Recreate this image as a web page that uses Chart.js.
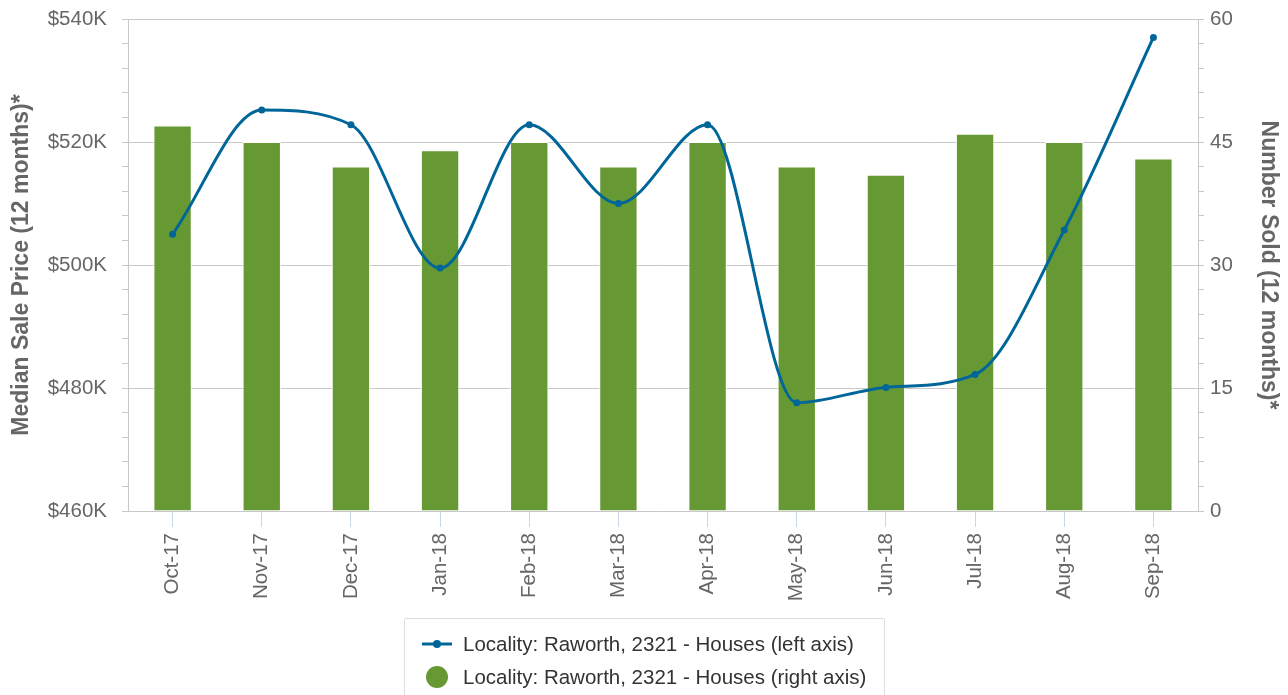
<!DOCTYPE html>
<html>
<head>
<meta charset="utf-8">
<script src="https://cdn.jsdelivr.net/npm/chart.js@4.4.1/dist/chart.umd.min.js"></script>
<style>
  html, body { margin: 0; padding: 0; background: #fff; overflow: hidden; }
  #wrap { position: relative; width: 1288px; height: 695px; }
  #c { position: absolute; left: 0; top: 0; }
  #legend {
    position: absolute; left: 404px; top: 618px; width: 481px; height: 100px;
    border: 1px solid #ddd; border-radius: 2px; box-sizing: border-box;
    font-family: "Liberation Sans", Arial, sans-serif; font-size: 20.5px; color: #333;
  }
  .item { position: absolute; left: 16px; height: 24px; display: flex; align-items: center; white-space: nowrap; }
  .item svg { margin-right: 10px; }
</style>
</head>
<body>
<div id="wrap">
  <canvas id="c" width="1288" height="695"></canvas>
  <div id="legend">
    <div class="item" style="top:13px">
      <svg width="32" height="12"><line x1="1" y1="6" x2="31" y2="6" stroke="#006699" stroke-width="3"/><circle cx="16" cy="6" r="4" fill="#006699"/></svg>
      <span id="l1"></span>
    </div>
    <div class="item" style="top:46px">
      <svg width="32" height="24"><circle cx="16" cy="12" r="11" fill="#669933"/></svg>
      <span id="l2"></span>
    </div>
  </div>
</div>
<script>
const categories = ["Oct-17","Nov-17","Dec-17","Jan-18","Feb-18","Mar-18","Apr-18","May-18","Jun-18","Jul-18","Aug-18","Sep-18"];
const medianPrice = [505000, 525200, 522800, 499500, 522800, 510000, 522800, 477600, 480100, 482200, 505700, 537000];
const numberSold = [47, 45, 42, 44, 45, 42, 45, 42, 41, 46, 45, 43];
const seriesLeftName = "Locality: Raworth, 2321 - Houses (left axis)";
const seriesRightName = "Locality: Raworth, 2321 - Houses (right axis)";
const leftTitle = "Median Sale Price (12 months)*";
const rightTitle = "Number Sold (12 months)*";

document.getElementById('l1').textContent = seriesLeftName;
document.getElementById('l2').textContent = seriesRightName;

const FONT = '"Liberation Sans", Arial, sans-serif';
const GRID = '#c8c8c8';
const TICK_SIZE = 20.5;

new Chart(document.getElementById('c'), {
  data: {
    labels: categories,
    datasets: [
      {
        type: 'line', label: seriesLeftName, data: medianPrice, yAxisID: 'y',
        borderColor: '#006699', backgroundColor: '#006699', borderWidth: 3,
        pointRadius: 3.5, pointBorderWidth: 0, cubicInterpolationMode: 'monotone', fill: false
      },
      {
        type: 'bar', label: seriesRightName, data: numberSold, yAxisID: 'y1',
        backgroundColor: '#669933', borderColor: '#ffffff', borderWidth: 1,
        barPercentage: 0.43, categoryPercentage: 1
      }
    ]
  },
  options: {
    responsive: false, animation: false,
    layout: { padding: { top: 19, left: 0, right: 0, bottom: 0 } },
    plugins: { legend: { display: false }, tooltip: { enabled: false } },
    scales: {
      x: {
        offset: true,
        afterFit: s => { s.height = 184; s.paddingLeft = 0; s.paddingRight = 0; },
        grid: { drawOnChartArea: false, offset: false, color: '#ccd6eb', tickLength: 16, lineWidth: 1 },
        border: { color: GRID, width: 1 },
        ticks: { minRotation: 90, maxRotation: 90, padding: 6, color: '#666', font: { family: FONT, size: TICK_SIZE } }
      },
      y: {
        position: 'left', min: 460000, max: 540000,
        afterFit: s => { s.width = 128; s.paddingTop = 0; s.paddingBottom = 0; },
        grid: {
          color: ctx => (ctx.tick && ctx.tick.value % 20000 === 0) ? GRID : 'rgba(0,0,0,0)',
          tickColor: GRID, tickLength: 6, lineWidth: 1
        },
        border: { color: GRID, width: 1 },
        ticks: {
          stepSize: 4000, maxTicksLimit: 40, autoSkip: false, padding: 15, color: '#666',
          font: { family: FONT, size: TICK_SIZE },
          callback: v => (v % 20000 === 0) ? '$' + (v / 1000) + 'K' : ''
        },
        title: { display: true, text: leftTitle, color: '#666', padding: { top: 8, bottom: 0 },
                 font: { family: FONT, size: 23, weight: 'bold' } }
      },
      y1: {
        position: 'right', min: 0, max: 60,
        afterFit: s => { s.width = 90; s.paddingTop = 0; s.paddingBottom = 0; },
        grid: { drawOnChartArea: false, color: GRID, tickLength: 6, lineWidth: 1 },
        border: { color: GRID, width: 1 },
        ticks: {
          stepSize: 3, maxTicksLimit: 40, autoSkip: false, padding: 6, color: '#666',
          font: { family: FONT, size: TICK_SIZE },
          callback: v => (v % 15 === 0) ? String(v) : ''
        },
        title: { display: true, text: rightTitle, color: '#666', padding: { top: 6, bottom: 0 },
                 font: { family: FONT, size: 23, weight: 'bold' } }
      }
    }
  }
});
</script>
</body>
</html>
